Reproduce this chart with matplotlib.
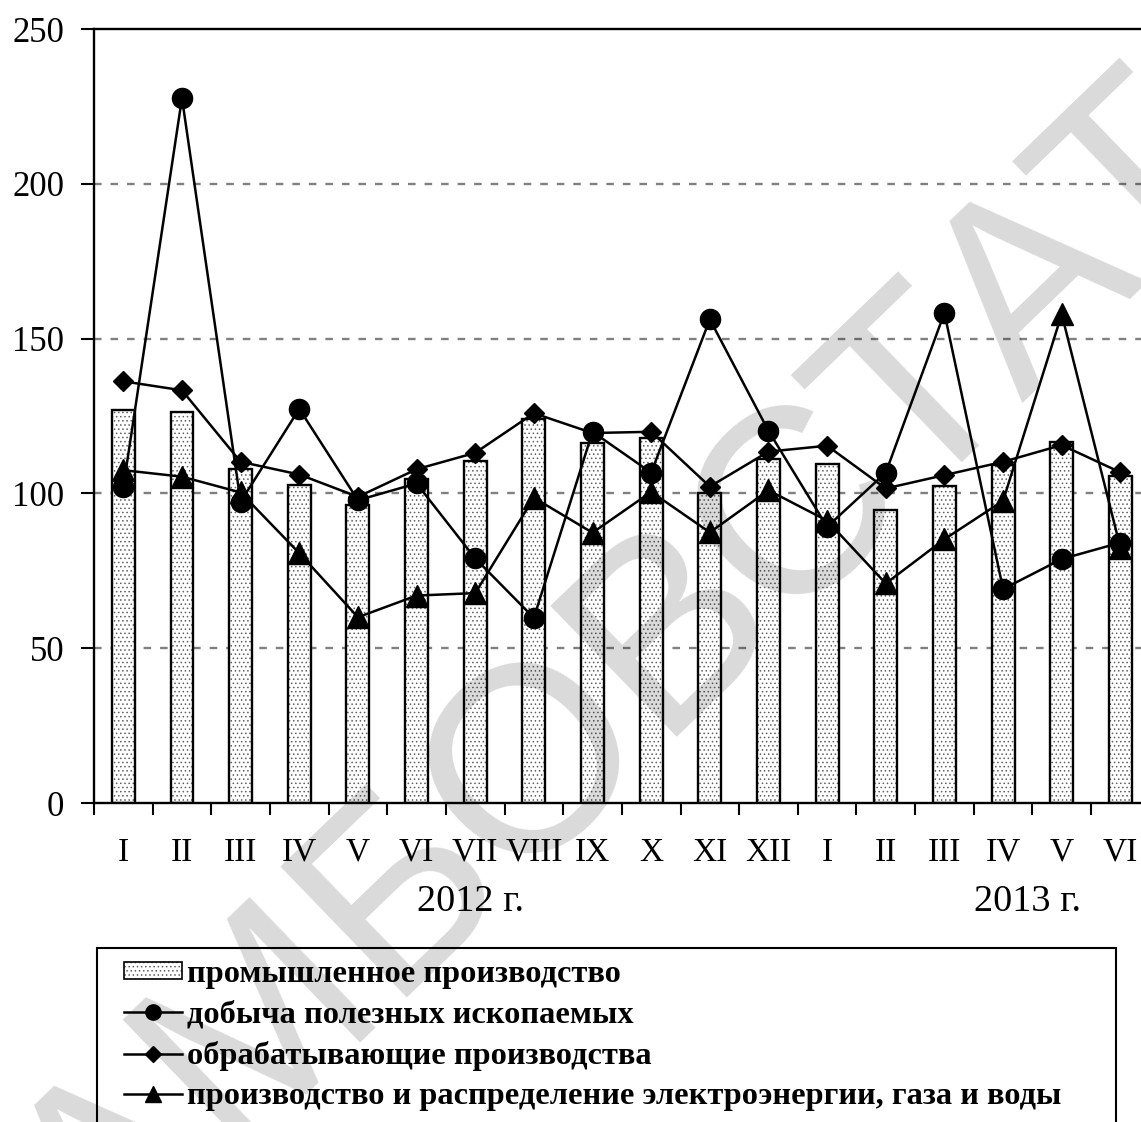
import matplotlib
matplotlib.use("Agg")
import matplotlib.pyplot as plt
from matplotlib.patches import Patch, Rectangle
from matplotlib.lines import Line2D
from matplotlib.legend_handler import HandlerTuple
import numpy as np

plt.rcParams["font.family"] = ["Liberation Serif", "DejaVu Serif"]
plt.rcParams["hatch.linewidth"] = 0.6

months = ["I", "II", "III", "IV", "V", "VI", "VII", "VIII", "IX", "X", "XI", "XII",
          "I", "II", "III", "IV", "V", "VI"]
years = ["2012 г.", "2013 г."]

industry = [126.9, 126.2, 107.8, 102.8, 96.2, 104.7, 110.6, 124.1, 116.4,
            118.0, 100.0, 111.2, 109.5, 94.7, 102.5, 109.1, 116.7, 105.7]
mining = [102.0, 227.7, 97.3, 127.3, 97.8, 103.2, 79.0, 59.8, 119.9,
          106.7, 156.2, 120.2, 89.2, 106.7, 158.3, 69.1, 78.8, 84.1]
manufacturing = [136.2, 133.3, 110.2, 106.1, 98.9, 107.8, 113.1, 125.9, 119.5,
                 119.9, 102.2, 113.5, 115.4, 101.6, 105.9, 110.2, 115.6, 106.8]
utilities = [107.5, 105.4, 100.3, 80.7, 60.0, 67.0, 67.8, 98.6, 87.3,
             100.5, 87.4, 101.0, 91.2, 70.9, 85.2, 97.6, 157.9, 82.5]

labels = ["промышленное производство", "добыча полезных ископаемых",
          "обрабатывающие производства",
          "производство и распределение электроэнергии, газа и воды"]

W, H = 1141, 1122
fig = plt.figure(figsize=(W / 100, H / 100), dpi=100)
ax = fig.add_axes([94 / W, (H - 803) / H, 18 * 58.65 / W, 774 / H])

x = np.arange(len(months))
bw = 0.39
ax.bar(x, industry, width=bw, color="white", edgecolor="#606060", linewidth=0,
       hatch="....", zorder=2)
ax.bar(x, industry, width=bw, facecolor="none", edgecolor="black", linewidth=1.7, zorder=3)

ax.plot(x, mining, color="black", lw=1.8, marker="o", ms=14.5, zorder=5)
ax.plot(x, manufacturing, color="black", lw=1.8, marker="D", ms=10.5, zorder=5)
ax.plot(x, utilities, color="black", lw=1.8, marker="^", ms=16, zorder=5)

ax.set_xlim(-0.5, 17.5)
ax.set_ylim(0, 250)
ax.set_yticks([0, 50, 100, 150, 200, 250])
for yv in [50, 100, 150, 200]:
    ax.axhline(yv, color="#808080", lw=1.7, ls=(0, (3.2, 3.8)), zorder=1)

ax.set_xticks(x)
ax.set_xticklabels(months)
ax.set_xticks(np.arange(-0.5, 18, 1), minor=True)
ax.tick_params(axis="x", which="major", length=0, pad=24.5, labelsize=24)
ax.tick_params(axis="x", which="minor", length=8.5, width=1.5, direction="out")
ax.tick_params(axis="y", length=9.5, width=1.5, direction="out", pad=12, labelsize=25)

for s in ["left", "bottom", "top"]:
    ax.spines[s].set_linewidth(1.7)
ax.spines["right"].set_visible(False)

ax.text(5.92, -0.128, years[0], transform=ax.get_xaxis_transform(), ha="center",
        va="center", fontsize=27.5)
ax.text(15.42, -0.128, years[1], transform=ax.get_xaxis_transform(), ha="center",
        va="center", fontsize=27.5)

# legend
bar_h = (Patch(facecolor="white", edgecolor="#606060", linewidth=0, hatch="...."),
         Patch(facecolor="none", edgecolor="black", linewidth=1.2))
handles = [bar_h,
           Line2D([], [], color="black", lw=1.8, marker="o", ms=11),
           Line2D([], [], color="black", lw=1.8, marker="D", ms=8),
           Line2D([], [], color="black", lw=1.8, marker="^", ms=12)]
fig.legend(handles, labels, loc="upper left", bbox_to_anchor=(124 / W, (H - 960) / H),
           frameon=False, borderpad=0, borderaxespad=0, handlelength=1.8,
           handleheight=0.45, handletextpad=0.15, labelspacing=0.355,
           prop={"weight": "bold", "size": 23.3},
           handler_map={tuple: HandlerTuple(ndivide=1)})
fig.patches.append(Rectangle((97 / W, -0.05), (1116 - 97) / W, 0.05 + (H - 948) / H,
                             transform=fig.transFigure, fill=False,
                             edgecolor="black", linewidth=1.5))

# watermark
fig.text(575 / W, (H - 735) / H, "ТАМБОВСТАТ", family="Liberation Sans",
         fontsize=190, color="black", alpha=0.15, rotation=44,
         rotation_mode="anchor", ha="center", va="center", zorder=10)

fig.savefig("out.png", dpi=100)
